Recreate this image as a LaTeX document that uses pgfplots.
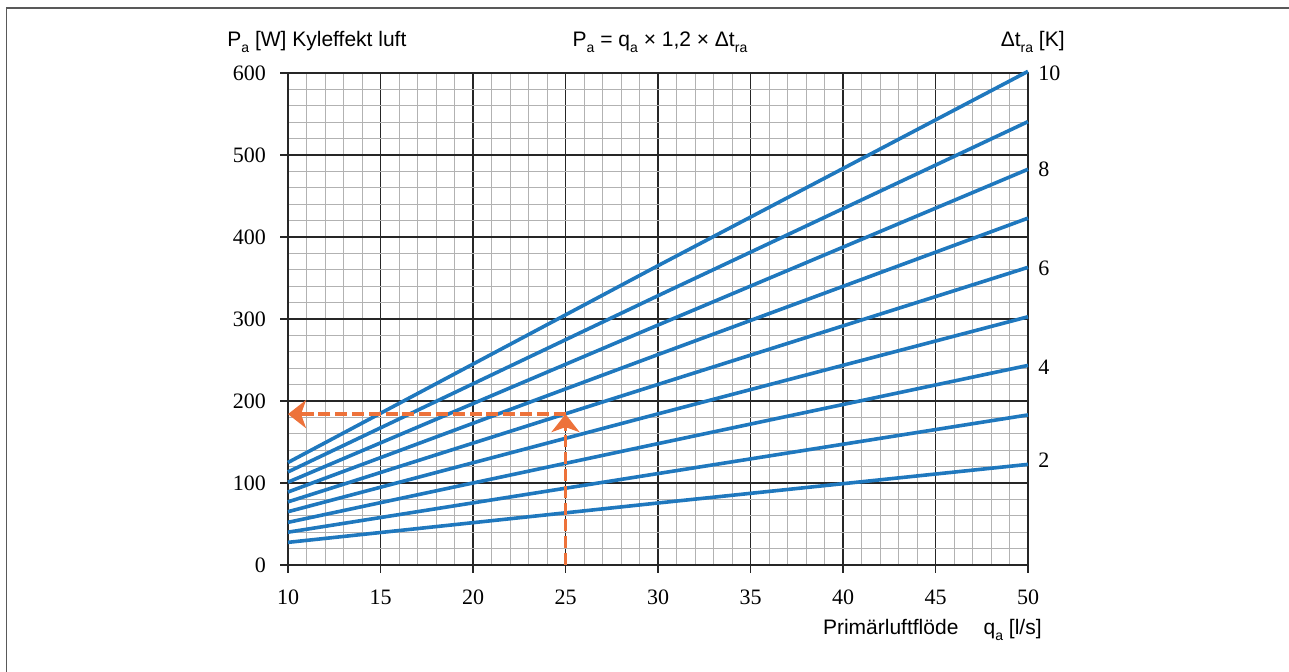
\documentclass[border=0pt]{standalone}
\usepackage{fontspec}
\setmainfont{Liberation Serif}
\setsansfont{Liberation Sans}
\usepackage{pgfplots}
\pgfplotsset{compat=1.18}
\usetikzlibrary{arrows.meta}
\definecolor{lineblue}{RGB}{31,120,190}
\definecolor{arroworange}{RGB}{237,114,58}
\newcommand{\lab}{\sffamily\fontsize{10.5}{12}\selectfont}
\newcommand{\sub}[1]{\raisebox{-0.55ex}{\fontsize{7}{8}\selectfont #1}}

\begin{document}
\begin{tikzpicture}[x=1pt,y=1pt]
\path[use as bounding box] (0,0) rectangle (644.5,336);
% partial frame, only left and top edges
\draw[line width=0.8pt, black!65] (3.25,0) -- (3.25,332) -- (644.5,332);
\begin{axis}[
  at={(144pt,53.5pt)}, anchor=south west,
  scale only axis, width=370pt, height=246pt,
  xmin=10, xmax=50, ymin=0, ymax=600,
  xtick={10,15,...,50}, ytick={0,100,...,600},
  minor x tick num=4, minor y tick num=4,
  grid=both,
  major grid style={line width=0.6pt, black!85},
  minor grid style={line width=0.5pt, black!30},
  axis line style={line width=0.7pt, black!85},
  tick pos=left, tick align=outside,
  major tick length=4pt, minor tick length=0pt,
  tick style={line width=0.6pt, black!85},
  /pgf/number format/assume math mode=true,
  ticklabel style={font=\fontsize{11}{13}\selectfont},
  xticklabel style={yshift=-5pt},
  yticklabel style={xshift=-3.5pt},
  clip=false,
  tline/.style={lineblue, line width=1.8pt, solid, no marks},
  guide/.style={arroworange, line width=1.8pt, dash pattern=on 6pt off 2.4pt, no marks,
    -{Stealth[length=9pt, width=14pt, inset=2.5pt, fill=arroworange]}},
]
% P = q * 1.2 * dt, dt = 10 ... 2
\addplot[tline] coordinates {(10,125) (30,365) (50,602)};
\addplot[tline] coordinates {(10,113.5) (30,328.4) (50,540.7)};
\addplot[tline] coordinates {(10,101) (30,292.6) (50,482.6)};
\addplot[tline] coordinates {(10,89) (30,256.6) (50,423)};
\addplot[tline] coordinates {(10,77) (30,220.2) (50,363)};
\addplot[tline] coordinates {(10,65) (30,184.3) (50,302.7)};
\addplot[tline] coordinates {(10,52) (30,148) (50,243.4)};
\addplot[tline] coordinates {(10,40) (30,111.5) (50,183)};
\addplot[tline] coordinates {(10,27.6) (30,75.6) (50,122.7)};
% reading example
\addplot[guide] coordinates {(25,0) (25,184)};
\addplot[guide] coordinates {(25,184) (10,184)};
% delta t labels at the line ends
\begin{scope}[every node/.style={anchor=west, inner sep=0pt, xshift=5pt, font=\fontsize{11}{13}\selectfont}]
\node at (axis cs:50,600) {10};
\node at (axis cs:50,482) {8};
\node at (axis cs:50,362) {6};
\node at (axis cs:50,241) {4};
\node at (axis cs:50,128) {2};
\end{scope}
\end{axis}
\node[font=\lab] at (330,315) {P\sub{a} = q\sub{a} × 1,2 × Δt\sub{ra}};
\node[font=\lab, anchor=west, inner sep=0pt] at (113.5,315) {P\sub{a} [W] Kyleffekt luft};
\node[font=\lab, anchor=east, inner sep=0pt] at (532.5,315) {Δt\sub{ra} [K]};
\node[font=\lab, anchor=east, inner sep=0pt] at (521,21) {Primärluftflöde\hspace{1.2em}q\sub{a} [l/s]};
\end{tikzpicture}
\end{document}
